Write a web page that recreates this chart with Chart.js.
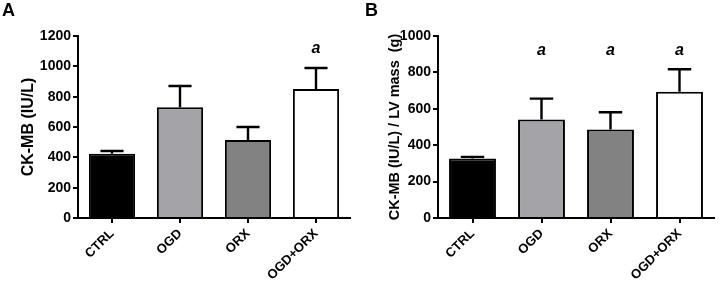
<!DOCTYPE html>
<html>
<head>
<meta charset="utf-8">
<script src="https://cdn.jsdelivr.net/npm/chart.js@4/dist/chart.umd.min.js"></script>
<style>
  body { margin: 0; background: #fff; }
  #wrap { position: relative; width: 720px; height: 282px; }
  .panel { position: absolute; top: 0; width: 360px; height: 282px; }
</style>
</head>
<body>
<div id="wrap">
  <div class="panel" style="left:0"><canvas id="chartA"></canvas></div>
  <div class="panel" style="left:360px"><canvas id="chartB"></canvas></div>
</div>
<script>
const groups = ['CTRL', 'OGD', 'ORX', 'OGD+ORX'];
const barColors = ['#000000', '#a4a4a8', '#828282', '#ffffff'];

// panel A: CK-MB (IU/L)
const ckmbMean = [424, 730, 514, 850];
const ckmbSem = [18, 140, 86, 139];
const ckmbSig = [false, false, false, true];

// panel B: CK-MB / LV mass
const ckmbLvMean = [327, 541, 486, 694];
const ckmbLvSem = [9, 115, 95, 123];
const ckmbLvSig = [false, true, true, true];

const fontFamily = '"Liberation Sans", Arial, sans-serif';

// error bars (upper only), significance marks and panel letter
const extrasPlugin = {
  id: 'extras',
  afterDatasetsDraw(chart, args, opts) {
    const {ctx, scales: {x, y}} = chart;
    const meta = chart.getDatasetMeta(0);
    ctx.save();
    ctx.strokeStyle = '#000';
    ctx.lineWidth = 2.4;
    meta.data.forEach((bar, i) => {
      const top = y.getPixelForValue(opts.mean[i] + opts.sem[i]);
      const base = y.getPixelForValue(opts.mean[i]);
      const half = bar.width / 4;
      ctx.beginPath();
      ctx.moveTo(bar.x, base);
      ctx.lineTo(bar.x, top);
      ctx.moveTo(bar.x - half, top);
      ctx.lineTo(bar.x + half, top);
      ctx.stroke();
    });
    ctx.fillStyle = '#000';
    ctx.font = 'italic bold 16px ' + fontFamily;
    ctx.textAlign = 'center';
    ctx.textBaseline = 'middle';
    opts.sig.forEach((s, i) => {
      if (s) ctx.fillText('a', x.getPixelForValue(i), y.getPixelForValue(opts.sigLevel));
    });
    ctx.font = 'bold 18px ' + fontFamily;
    ctx.textAlign = 'left';
    ctx.textBaseline = 'alphabetic';
    ctx.fillText(opts.letter, opts.letterX, 16);
    ctx.restore();
  }
};

function makeChart(id, mean, sem, sig, opts) {
  new Chart(document.getElementById(id), {
    type: 'bar',
    data: {
      labels: groups,
      datasets: [{
        data: mean,
        backgroundColor: barColors,
        borderColor: '#000',
        borderWidth: 2,
        borderSkipped: 'bottom',
        barPercentage: 0.68,
        categoryPercentage: 1
      }]
    },
    options: {
      responsive: false,
      animation: false,
      devicePixelRatio: 1,
      layout: { padding: { left: 0, top: 36, right: opts.rightPad, bottom: 0 } },
      plugins: {
        legend: { display: false },
        tooltip: { enabled: false },
        extras: {
          mean: mean, sem: sem, sig: sig,
          sigLevel: opts.sigLevel, letter: opts.letter, letterX: opts.letterX
        }
      },
      scales: {
        x: {
          offset: true,
          afterFit: (s) => { s.height = 64; },
          grid: { offset: false, drawOnChartArea: false, drawTicks: true, tickLength: 5, color: '#000', lineWidth: 2 },
          border: { display: true, color: '#000', width: 2 },
          ticks: {
            color: '#000', minRotation: 45, maxRotation: 45, padding: 3,
            font: { family: fontFamily, size: 13, weight: 'bold' }
          }
        },
        y: {
          min: 0, max: opts.max,
          afterFit: (s) => { s.width = 78; },
          grid: { drawOnChartArea: false, drawTicks: true, tickLength: 5, color: '#000', lineWidth: 2 },
          border: { display: true, color: '#000', width: 2 },
          ticks: {
            stepSize: 200, color: '#000', padding: 2,
            callback: (v) => String(v),
            font: { family: fontFamily, size: 14, weight: 'bold' }
          },
          title: {
            display: true, text: opts.title, color: '#000',
            padding: { top: opts.titlePad, bottom: 0 },
            font: { family: fontFamily, size: opts.titleSize, weight: 'bold' }
          }
        }
      }
    },
    plugins: [extrasPlugin]
  });
}

for (const c of ['chartA', 'chartB']) {
  const el = document.getElementById(c);
  el.width = 360;
  el.height = 282;
}

makeChart('chartA', ckmbMean, ckmbSem, ckmbSig, {
  max: 1200, title: 'CK-MB (IU/L)', titleSize: 16, titlePad: 19, rightPad: 10,
  sigLevel: 1120, letter: 'A', letterX: 2
});
makeChart('chartB', ckmbLvMean, ckmbLvSem, ckmbLvSig, {
  max: 1000, title: 'CK-MB (IU/L) / LV mass  (g)', titleSize: 14.5, titlePad: 26, rightPad: 6,
  sigLevel: 918, letter: 'B', letterX: 5
});
</script>
</body>
</html>
